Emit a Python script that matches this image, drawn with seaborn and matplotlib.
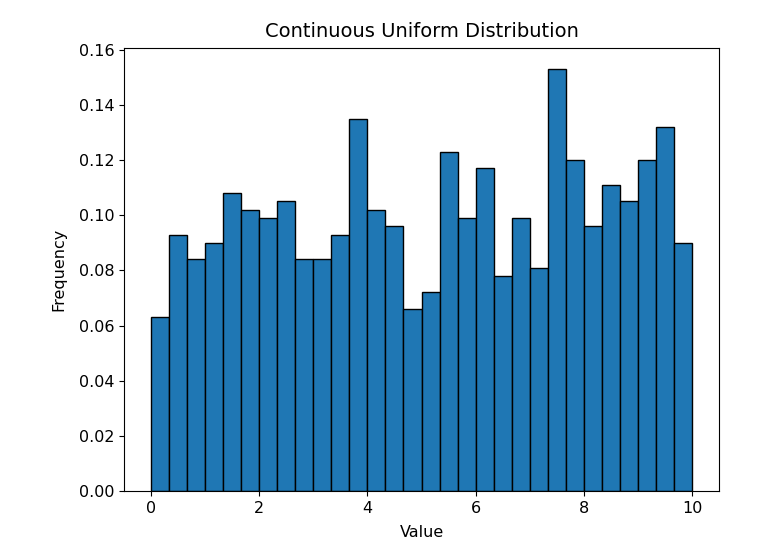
import numpy as np
import pandas as pd
import matplotlib
matplotlib.use("Agg")
import matplotlib.pyplot as plt
import seaborn as sns

# 30 bins on [0, 10], density values
n_bins = 30
x_min, x_max = 0, 10
densities = [0.063, 0.093, 0.084, 0.090, 0.108, 0.102, 0.099, 0.105, 0.084, 0.084,
             0.093, 0.135, 0.102, 0.096, 0.066, 0.072, 0.123, 0.099, 0.117, 0.078,
             0.099, 0.081, 0.153, 0.120, 0.096, 0.111, 0.105, 0.120, 0.132, 0.090]

edges = np.linspace(x_min, x_max, n_bins + 1)
df = pd.DataFrame({"value": (edges[:-1] + edges[1:]) / 2, "density": densities})

plt.rcParams["font.size"] = 11.5

fig = plt.figure(figsize=(7.74, 5.56), dpi=100)
ax = fig.add_axes([124 / 774, 1 - 491 / 556, 595 / 774, 443 / 556])

sns.histplot(data=df, x="value", weights="density", bins=n_bins,
             binrange=(x_min, x_max), stat="count",
             color="#1f77b4", alpha=1, edgecolor="black", linewidth=1.0, ax=ax)

ax.set_title("Continuous Uniform Distribution", fontsize=14, pad=8)
ax.set_xlabel("Value", labelpad=7)
ax.set_ylabel("Frequency", labelpad=9)
ax.set_yticks(np.arange(0, 0.161, 0.02))

fig.savefig("out.png", dpi=100)
